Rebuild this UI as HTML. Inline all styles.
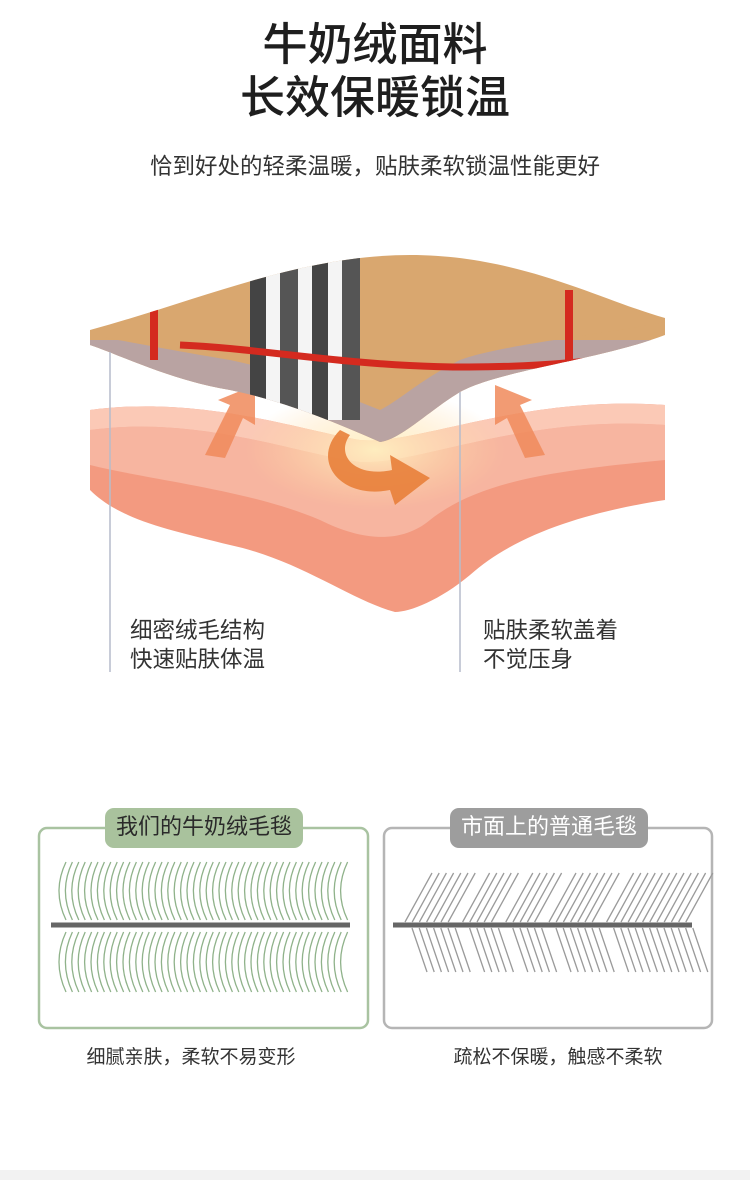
<!DOCTYPE html>
<html><head><meta charset="utf-8"><style>
html,body{margin:0;padding:0;background:#fff;}
body{width:750px;height:1180px;position:relative;overflow:hidden;font-family:"Liberation Sans","Noto Sans CJK SC",sans-serif;color:#222;}
.t{position:absolute;left:0;width:750px;text-align:center;}
.a{position:absolute;white-space:nowrap;}
</style></head><body>
<div class="t" style="top:18px;font-size:45px;line-height:54px;font-weight:500;color:#1e1e1e;">牛奶绒面料</div>
<div class="t" style="top:71px;font-size:45px;line-height:54px;font-weight:500;color:#1e1e1e;">长效保暖锁温</div>
<div class="t" style="top:152px;font-size:22.5px;line-height:30px;color:#333;">恰到好处的轻柔温暖，贴肤柔软锁温性能更好</div>

<svg width="750" height="1180" style="position:absolute;left:0;top:0" id="s">
<defs>
<radialGradient id="glow" cx="0.5" cy="0.5" r="0.5"><stop offset="0" stop-color="#fff1c0" stop-opacity="0.9"/><stop offset="1" stop-color="#ffd7a0" stop-opacity="0"/></radialGradient>
<clipPath id="bk"><path d="M90,330 C200,300 300,255 410,255 C520,255 600,300 665,318 L665,335 C600,360 500,370 460,392 C430,410 400,440 380,442 C330,420 280,400 230,390 C170,380 120,355 90,345 Z"/></clipPath>
</defs>
<path d="M90,410 C200,395 300,430 360,440 C420,445 520,395 665,405 L665,500 C600,510 520,530 470,575 C440,600 410,612 395,612 C350,600 300,560 230,545 C170,530 120,520 90,490 Z" fill="#f39a80"/>
<path d="M90,430 C200,415 300,455 360,462 C420,465 520,415 665,425 L665,460 C560,470 480,480 430,520 C400,545 360,540 320,520 C250,490 150,480 90,465 Z" fill="#f7b5a0"/>
<path d="M90,410 C200,395 300,430 360,440 C420,445 520,395 665,405 L665,425 C520,415 420,465 360,462 C300,455 200,415 90,430 Z" fill="#fbc9b6"/>
<ellipse cx="375" cy="450" rx="130" ry="60" fill="url(#glow)"/>
<path d="M205,455 L230,405 L218,400 L255,385 L255,425 L243,418 L225,458 Z" fill="#f08a5a" opacity="0.85"/>
<path d="M545,455 L520,405 L532,400 L495,385 L495,425 L507,418 L525,458 Z" fill="#f08a5a" opacity="0.85"/>
<path d="M340,430 C310,460 340,500 390,490 L395,505 L430,478 L390,455 L392,470 C355,478 335,455 350,435 Z" fill="#e8803a" opacity="0.9"/>
<g clip-path="url(#bk)">
<rect x="80" y="240" width="600" height="220" fill="#d9a76f"/>
<rect x="80" y="340" width="600" height="120" fill="#b9a3a2"/>
<path d="M90,332 C200,302 300,257 410,257 C520,257 600,302 665,320 L665,322 C600,335 500,345 460,360 C420,380 400,400 380,410 C330,390 280,370 230,360 C170,350 120,340 90,335Z" fill="#d9a76f"/>
<rect x="250" y="250" width="16" height="170" fill="#444"/>
<rect x="266" y="250" width="14" height="170" fill="#f4f4f4"/>
<rect x="280" y="250" width="18" height="170" fill="#555"/>
<rect x="298" y="250" width="14" height="170" fill="#f4f4f4"/>
<rect x="312" y="250" width="16" height="170" fill="#444"/>
<rect x="328" y="250" width="14" height="170" fill="#f4f4f4"/>
<rect x="342" y="250" width="18" height="170" fill="#555"/>
<path d="M180,345 C300,350 420,385 640,355" stroke="#d42a1f" stroke-width="7" fill="none"/>
<rect x="565" y="290" width="8" height="100" fill="#d42a1f"/>
<rect x="150" y="300" width="8" height="60" fill="#d42a1f"/>
</g>
<line x1="110" y1="352" x2="110" y2="672" stroke="#b6bccb" stroke-width="1.5"/>
<line x1="460" y1="392" x2="460" y2="672" stroke="#b6bccb" stroke-width="1.5"/>
<rect x="39" y="828" width="329" height="200" rx="8" fill="none" stroke="#a9c3a1" stroke-width="2.5"/>
<rect x="105" y="808" width="198" height="40" rx="9" fill="#a9c29d"/>
<rect x="384" y="828" width="328" height="200" rx="8" fill="none" stroke="#b5b5b5" stroke-width="2.5"/>
<rect x="450" y="808" width="198" height="40" rx="9" fill="#9d9d9d"/>
<g id="g1" stroke="#8fb28a" stroke-width="1.3" fill="none"></g>
<g id="g2" stroke="#9a9a9a" stroke-width="1.3" fill="none"></g>
<line x1="51" y1="925" x2="350" y2="925" stroke="#666" stroke-width="5"/>
<line x1="393" y1="925" x2="692" y2="925" stroke="#666" stroke-width="5"/>
</svg>
<script>
var g1=document.getElementById('g1'),s='';
for(var x=66;x<=350;x+=6.4){s+='<path d="M'+x+',862 Q'+(x-14)+',891 '+x+',920"/><path d="M'+x+',932 Q'+(x-14)+',962 '+x+',992"/>';}
g1.innerHTML=s;
var g2=document.getElementById('g2');s='';
var xs=[];for(var k=0;k<40;k++){if(k==7||k==13||k==19||k==27)continue;xs.push(410+k*7.2);}
xs.forEach(function(x){s+='<line x1="'+(x-5)+'" y1="922" x2="'+(x+22)+'" y2="873"/><line x1="'+(x+2)+'" y1="928" x2="'+(x+17)+'" y2="972"/>';});
g2.innerHTML=s;
</script>
<div class="a" style="left:130px;top:616px;font-size:22.5px;line-height:29px;color:#333;">细密绒毛结构<br>快速贴肤体温</div>
<div class="a" style="left:483px;top:616px;font-size:22.5px;line-height:29px;color:#333;">贴肤柔软盖着<br>不觉压身</div>
<div class="a" style="left:105px;top:812px;width:198px;text-align:center;font-size:22px;line-height:30px;color:#2a2a2a;">我们的牛奶绒毛毯</div>
<div class="a" style="left:450px;top:812px;width:198px;text-align:center;font-size:22px;line-height:30px;color:#fff;">市面上的普通毛毯</div>
<div class="a" style="left:41px;top:1045px;width:300px;text-align:center;font-size:19px;line-height:26px;color:#333;">细腻亲肤，柔软不易变形</div>
<div class="a" style="left:408px;top:1045px;width:300px;text-align:center;font-size:19px;line-height:26px;color:#333;">疏松不保暖，触感不柔软</div>
<div style="position:absolute;left:0;top:1170px;width:750px;height:10px;background:#f2f2f2;"></div>
</body></html>
